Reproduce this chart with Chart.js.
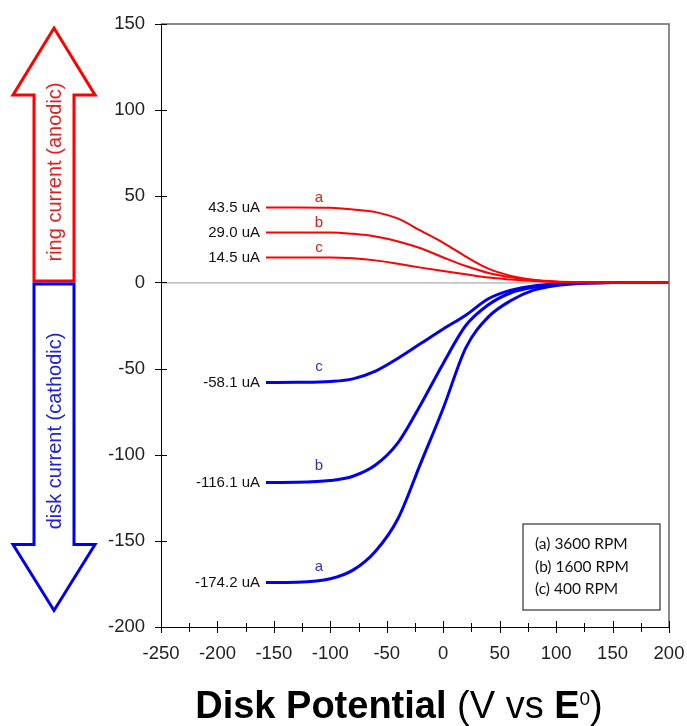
<!DOCTYPE html>
<html>
<head>
<meta charset="utf-8">
<script src="https://cdn.jsdelivr.net/npm/chart.js@4.4.1/dist/chart.umd.min.js"></script>
<style>
  html, body { margin: 0; padding: 0; background: #fff; overflow: hidden; }
  #wrap { width: 687px; height: 726px; position: relative; }
</style>
</head>
<body>
<div id="wrap"><canvas id="grafico"></canvas></div>
<script>
// Dados
const potenciais = [-157, -130, -100, -80, -60, -40, -20, 0, 20, 40, 60, 80, 100, 120, 150, 200];
const anelA = [43.5, 43.5, 43.3, 42.3, 40.8, 37, 30, 23, 15, 8, 3.8, 1.5, 0.5, 0.2, 0, 0];
const anelB = [29.0, 29, 29, 28.2, 26.7, 23.8, 19.8, 14.5, 9.5, 5.5, 3, 1.3, 0.4, 0.1, 0, 0];
const anelC = [14.5, 14.5, 14.5, 14, 12.8, 10.8, 8.6, 6.6, 4.7, 2.8, 1.7, 0.8, 0.3, 0.1, 0, 0];
const discoA = [-174.2, -174, -172, -167, -156, -137, -105, -73, -38, -20, -10.5, -4.5, -1.8, -0.6, -0.1, 0];
const discoB = [-116.1, -116, -115, -112.5, -106, -93, -71, -47, -25, -13, -6, -2.8, -1, -0.3, 0, 0];
const discoC = [-58.1, -58, -57.5, -56, -51.5, -44, -35.5, -27, -19, -9.5, -4.5, -2, -1, -0.3, 0, 0];
const letras = ['a', 'b', 'c', 'a', 'b', 'c'];
const legendaRpm = ['(a) 3600 RPM', '(b) 1600 RPM', '(c) 400 RPM'];
const xTicksMin = -250, xTicksMax = 200;
const yTicksMin = -200, yTicksMax = 150;

const VERMELHO = '#ff0000';
const AZUL = '#0000ee';
const FONTE = '"Liberation Sans", Arial, sans-serif';

function serie(valores, cor, largura) {
    return {
        data: potenciais.map((x, i) => ({ x: x, y: valores[i] })),
        borderColor: cor,
        borderWidth: largura,
        pointRadius: 0,
        cubicInterpolationMode: 'monotone',
        fill: false
    };
}

// Desenhos extras: linha zero, bordas, ticks, anotações, setas, título
const extras = {
    id: 'extras',
    beforeDatasetsDraw(chart) {
        const { ctx, chartArea: a, scales: { y } } = chart;
        const y0 = y.getPixelForValue(0);
        ctx.save();
        ctx.strokeStyle = '#999';
        ctx.lineWidth = 1;
        ctx.beginPath();
        ctx.moveTo(a.left, y0 + 0.5);
        ctx.lineTo(a.right, y0 + 0.5);
        ctx.stroke();
        ctx.restore();
    },
    afterDraw(chart) {
        const { ctx, chartArea: a, scales: { x, y } } = chart;
        ctx.save();

        // borda superior e direita
        ctx.strokeStyle = '#666';
        ctx.lineWidth = 1.5;
        ctx.beginPath();
        ctx.moveTo(a.left, a.top);
        ctx.lineTo(a.right, a.top);
        ctx.lineTo(a.right, a.bottom);
        ctx.stroke();

        // ticks cruzando os eixos
        ctx.strokeStyle = '#000';
        ctx.lineWidth = 1;
        ctx.beginPath();
        y.ticks.forEach(t => {
            const py = Math.round(y.getPixelForValue(t.value)) + 0.5;
            ctx.moveTo(a.left - 6, py);
            ctx.lineTo(a.left + 6, py);
        });
        x.ticks.forEach(t => {
            const px = Math.round(x.getPixelForValue(t.value)) + 0.5;
            const maior = t.value % 50 === 0;
            ctx.moveTo(px, a.bottom - (maior ? 6 : 4));
            ctx.lineTo(px, a.bottom + (maior ? 6 : 5));
        });
        ctx.stroke();

        // anotações de cada curva
        chart.data.datasets.forEach((ds, i) => {
            const primeiro = ds.data[0];
            const px = x.getPixelForValue(primeiro.x);
            const py = y.getPixelForValue(primeiro.y);
            ctx.font = '15px ' + FONTE;
            ctx.fillStyle = '#111';
            ctx.textAlign = 'right';
            ctx.textBaseline = 'middle';
            ctx.fillText(primeiro.y.toFixed(1) + ' uA', px - 6, py);

            const azul = primeiro.y < 0;
            ctx.fillStyle = azul ? '#3333cc' : '#d42020';
            ctx.textAlign = 'center';
            ctx.textBaseline = 'alphabetic';
            ctx.fillText(letras[i], x.getPixelForValue(-110), py - (azul ? 12 : 5));
        });

        // caixa de legenda
        const bx = a.right - 146, by = a.bottom - 103, bw = 137, bh = 86;
        ctx.strokeStyle = '#333';
        ctx.lineWidth = 1.2;
        ctx.strokeRect(bx, by, bw, bh);
        ctx.fillStyle = '#111';
        ctx.font = '15.5px Lato, "Noto Sans", sans-serif';
        ctx.textAlign = 'left';
        ctx.textBaseline = 'middle';
        legendaRpm.forEach((txt, i) => {
            ctx.fillText(txt, bx + 12, by + 20 + i * 22.5);
        });

        // setas laterais
        const y0 = y.getPixelForValue(0);
        const cx = 54, meia = 20, cabeca = 41;
        ctx.lineWidth = 3;
        ctx.lineJoin = 'miter';

        ctx.strokeStyle = VERMELHO;
        ctx.beginPath();
        ctx.moveTo(cx - meia, y0 - 1.5);
        ctx.lineTo(cx - meia, a.top + 71);
        ctx.lineTo(cx - cabeca, a.top + 71);
        ctx.lineTo(cx, a.top + 4);
        ctx.lineTo(cx + cabeca, a.top + 71);
        ctx.lineTo(cx + meia, a.top + 71);
        ctx.lineTo(cx + meia, y0 - 1.5);
        ctx.closePath();
        ctx.stroke();

        ctx.strokeStyle = AZUL;
        ctx.beginPath();
        ctx.moveTo(cx - meia, y0 + 1.5);
        ctx.lineTo(cx - meia, y0 + 262);
        ctx.lineTo(cx - cabeca, y0 + 262);
        ctx.lineTo(cx, y0 + 328);
        ctx.lineTo(cx + cabeca, y0 + 262);
        ctx.lineTo(cx + meia, y0 + 262);
        ctx.lineTo(cx + meia, y0 + 1.5);
        ctx.closePath();
        ctx.stroke();

        ctx.font = '20px ' + FONTE;
        ctx.textBaseline = 'middle';
        ctx.textAlign = 'center';
        ctx.save();
        ctx.translate(cx + 1, 172);
        ctx.rotate(-Math.PI / 2);
        ctx.fillStyle = '#e02020';
        ctx.fillText('ring current (anodic)', 0, 0);
        ctx.restore();
        ctx.save();
        ctx.translate(cx + 1, 431);
        ctx.rotate(-Math.PI / 2);
        ctx.fillStyle = '#2020dd';
        ctx.fillText('disk current (cathodic)', 0, 0);
        ctx.restore();

        // título do eixo x
        const partes = [
            { t: 'Disk Potential ', f: 'bold 38px ' + FONTE, dy: 0 },
            { t: '(V vs ', f: '38px ' + FONTE, dy: 0 },
            { t: 'E', f: 'bold 38px ' + FONTE, dy: 0 },
            { t: '0', f: '19px ' + FONTE, dy: -13 },
            { t: ')', f: '38px ' + FONTE, dy: 0 }
        ];
        let total = 0;
        partes.forEach(p => { ctx.font = p.f; p.w = ctx.measureText(p.t).width; total += p.w; });
        let tx = 399 - total / 2;
        ctx.fillStyle = '#000';
        ctx.textAlign = 'left';
        ctx.textBaseline = 'alphabetic';
        partes.forEach(p => {
            ctx.font = p.f;
            ctx.fillText(p.t, tx, 718 + p.dy);
            tx += p.w;
        });

        ctx.restore();
    }
};

new Chart(document.getElementById('grafico'), {
    type: 'line',
    data: {
        datasets: [
            serie(anelA, VERMELHO, 2),
            serie(anelB, VERMELHO, 2),
            serie(anelC, VERMELHO, 2),
            serie(discoA, AZUL, 3),
            serie(discoB, AZUL, 3),
            serie(discoC, AZUL, 3)
        ]
    },
    options: {
        responsive: true,
        maintainAspectRatio: false,
        animation: false,
        layout: { padding: { top: 24, right: 18, left: 0, bottom: 0 } },
        plugins: {
            legend: { display: false },
            tooltip: { enabled: false }
        },
        scales: {
            x: {
                type: 'linear',
                min: xTicksMin,
                max: xTicksMax,
                afterFit: s => { s.height = 99; s.paddingLeft = 0; s.paddingRight = 0; },
                grid: { display: false, drawTicks: false },
                border: { display: true, color: '#000', width: 1 },
                ticks: {
                    stepSize: 25,
                    autoSkip: false,
                    maxRotation: 0,
                    padding: 16,
                    color: '#222',
                    font: { family: FONTE, size: 18.5 },
                    callback: v => (v % 50 === 0 ? v : '')
                }
            },
            y: {
                min: yTicksMin,
                max: yTicksMax,
                afterFit: s => { s.width = 161; s.paddingTop = 0; s.paddingBottom = 0; },
                grid: { display: false, drawTicks: false },
                border: { display: true, color: '#000', width: 1 },
                ticks: {
                    stepSize: 50,
                    padding: 16,
                    color: '#222',
                    font: { family: FONTE, size: 18.5 }
                }
            }
        }
    },
    plugins: [extras]
});
</script>
</body>
</html>
